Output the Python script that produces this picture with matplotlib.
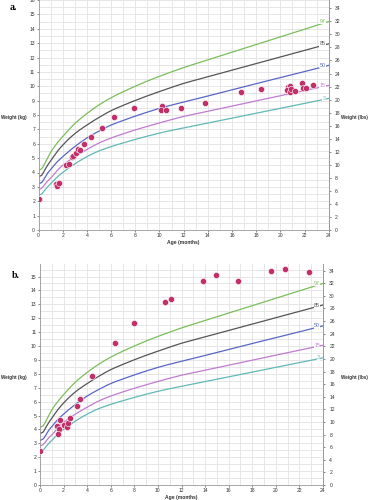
import numpy as np
import matplotlib
matplotlib.use("Agg")
import matplotlib.pyplot as plt

plt.rcParams["font.family"] = ["Liberation Sans", "DejaVu Sans"]

# Percentile reference curves (kg)
months = [0, 0.25, 0.5, 0.75, 1, 1.5, 2, 3, 4, 5, 6, 7, 8, 9, 10, 11, 12, 13, 14, 15, 16,
          17, 18, 19, 20, 21, 22, 23, 24]
p3 = [2.42, 2.5, 2.75, 3.0, 3.2, 3.65, 4.0, 4.6, 5.1, 5.5,
      5.8, 6.06, 6.3, 6.53, 6.74, 6.93, 7.1,
      7.27, 7.44, 7.61, 7.78, 7.95, 8.12, 8.29, 8.46, 8.63, 8.8, 8.97, 9.15]
p15 = [2.8, 2.9, 3.15, 3.4, 3.6, 4.1, 4.5, 5.1, 5.6, 6.05,
       6.4, 6.69, 6.96, 7.21, 7.45, 7.68, 7.9,
       8.08, 8.26, 8.44, 8.62, 8.8, 8.98, 9.16, 9.34, 9.52, 9.7, 9.88, 10.06]
p50 = [3.2, 3.3, 3.6, 3.95, 4.2, 4.7, 5.1, 5.8, 6.4, 6.88,
       7.3, 7.62, 7.92, 8.2, 8.46, 8.69, 8.9,
       9.11, 9.32, 9.54, 9.75, 9.96, 10.18, 10.39, 10.6, 10.81, 11.02, 11.24, 11.45]
p85 = [3.7, 3.8, 4.15, 4.5, 4.8, 5.4, 5.9, 6.7, 7.3, 7.83,
       8.3, 8.67, 9.01, 9.33, 9.63, 9.92, 10.2,
       10.43, 10.66, 10.89, 11.12, 11.35, 11.58, 11.81, 12.04, 12.27, 12.5, 12.73, 12.95]
p97 = [4.15, 4.25, 4.6, 5.0, 5.4, 6.0, 6.5, 7.4, 8.1, 8.7,
       9.2, 9.62, 10.0, 10.36, 10.69, 11.0, 11.3,
       11.57, 11.84, 12.1, 12.37, 12.64, 12.9, 13.17, 13.44, 13.7, 13.97, 14.24, 14.5]
pct_labels = ["97", "85", "50", "15", "3"]
pct_colors = ["#7cbd5a", "#555555", "#5a66c4", "#c07ccf", "#62b8b6"]

# Panel a measurements
a_age = [0, 1.45, 1.55, 1.67, 2.25, 2.52, 2.77, 2.88, 3.07, 3.26, 3.4, 3.73, 4.38, 5.29,
         6.27, 7.89, 10.19, 10.16, 10.52, 11.75, 13.75, 16.77, 18.38, 20.63, 20.82, 20.55,
         20.77, 20.88, 21.18, 21.78, 21.86, 22.1, 22.7]
a_wt = [2.14, 3.2, 3.05, 3.3, 4.53, 4.56, 5.07, 5.12, 5.35, 5.65, 5.56, 6.0, 6.44, 7.12,
        7.86, 8.51, 8.6, 8.37, 8.35, 8.47, 8.86, 9.6, 9.81, 9.93, 10.05, 9.72,
        9.58, 9.81, 9.67, 10.26, 9.91, 9.86, 10.07]

# Panel b measurements
b_age = [0, 1.41, 1.58, 1.55, 1.69, 2.05, 2.32, 2.4, 2.57, 3.1, 3.42, 4.4, 6.33, 7.94,
         10.59, 11.13, 13.81, 14.94, 16.81, 19.55, 20.76, 22.82]
b_wt = [2.47, 4.24, 4.0, 3.67, 4.7, 4.3, 4.17, 4.48, 4.84, 5.68, 6.19, 7.85, 10.19, 11.68,
        13.19, 13.4, 14.7, 15.08, 14.7, 15.4, 15.52, 15.3]

x_ticks = list(range(0, 25, 2))
KG2LB = 2.20462


def pchip(x, y, xs):
    x = np.asarray(x, float)
    y = np.asarray(y, float)
    h = np.diff(x)
    d = np.diff(y) / h
    m = np.zeros_like(y)
    for k in range(1, len(x) - 1):
        if d[k - 1] * d[k] > 0:
            w1 = 2 * h[k] + h[k - 1]
            w2 = h[k] + 2 * h[k - 1]
            m[k] = (w1 + w2) / (w1 / d[k - 1] + w2 / d[k])
    m[0] = d[0]
    m[-1] = d[-1]
    idx = np.clip(np.searchsorted(x, xs) - 1, 0, len(x) - 2)
    t = (xs - x[idx]) / h[idx]
    h00 = 2 * t**3 - 3 * t**2 + 1
    h10 = t**3 - 2 * t**2 + t
    h01 = -2 * t**3 + 3 * t**2
    h11 = t**3 - t**2
    return h00 * y[idx] + h10 * h[idx] * m[idx] + h01 * y[idx + 1] + h11 * h[idx] * m[idx + 1]


fig = plt.figure(figsize=(3.69, 5.0), dpi=100)


def panel(rect, ages, wts, ymax, kg_ticks, letter, letter_xy, ylab_y, lbs_y):
    ax = fig.add_axes(rect)
    ax.set_xlim(0, 24)
    ax.set_ylim(0, ymax)
    ax.set_xticks(x_ticks)
    ax.set_xticks(np.arange(0, 24.01, 1), minor=True)
    ax.set_yticks(kg_ticks)
    ax.set_yticks(np.arange(0, ymax + 0.01, 0.5), minor=True)
    ax.grid(True, which="both", color="#e2e2e2", lw=0.6, zorder=0)
    ax.tick_params(which="both", labelsize=3.6, length=1.5, width=0.4, pad=1,
                   colors="#333333")
    ax.tick_params(which="minor", length=0)
    for s in ax.spines.values():
        s.set_color("#999999")
        s.set_linewidth(0.6)
    ax.spines["top"].set_visible(False)
    xs = np.linspace(0, 24, 500)
    curves = [p97, p85, p50, p15, p3]
    for c, lab, col in zip(curves, pct_labels, pct_colors):
        ys = pchip(months, c, xs)
        ax.plot(xs, ys, color=col, lw=0.9, zorder=2)
        ax.text(23.75, c[-1], lab, ha="right", va="center", fontsize=3.8, color=col,
                zorder=3, bbox=dict(facecolor="white", edgecolor="none", pad=0.3))
    ax.scatter(ages, wts, s=20, color="#c2306a", edgecolor="white", linewidth=0.4,
               zorder=4)
    ax.set_xlabel("Age (months)", fontsize=3.6, fontweight="bold", color="#333333")
    ax.xaxis.set_label_coords(0.5, -0.045)
    ax2 = ax.twinx()
    ax2.set_ylim(0, ymax * KG2LB)
    ax2.set_yticks(np.arange(0, 35, 2))
    ax2.tick_params(labelsize=3.6, length=1.5, width=0.4, pad=3, colors="#333333")
    for s in ax2.spines.values():
        s.set_visible(False)
    ax2.spines["right"].set_visible(True)
    ax2.spines["right"].set_color("#999999")
    ax2.spines["right"].set_linewidth(0.6)
    fig.text(0.003, ylab_y, "Weight (kg)", fontsize=3.3, fontweight="bold",
             color="#333333", va="center")
    fig.text(0.996, lbs_y, "Weight (lbs)", fontsize=3.3, fontweight="bold",
             color="#333333", va="center", ha="right")
    fig.text(letter_xy[0], letter_xy[1], letter, fontsize=7, fontweight="bold",
             family="Liberation Serif", va="center")
    return ax


panel([38.5 / 369, 1 - 230 / 500, 290.2 / 369, 230 / 500], a_age, a_wt, 16,
      list(range(0, 17)), "a.", (10 / 369, 1 - 8 / 500), 1 - 117 / 500, 1 - 117 / 500)
panel([40 / 369, 1 - 485 / 500, 283 / 369, 221 / 500], b_age, b_wt, 15.9,
      list(range(0, 16)), "b.", (12 / 369, 1 - 276 / 500), 1 - 377 / 500, 1 - 377 / 500)

fig.savefig("out.png", dpi=100, facecolor="white")
